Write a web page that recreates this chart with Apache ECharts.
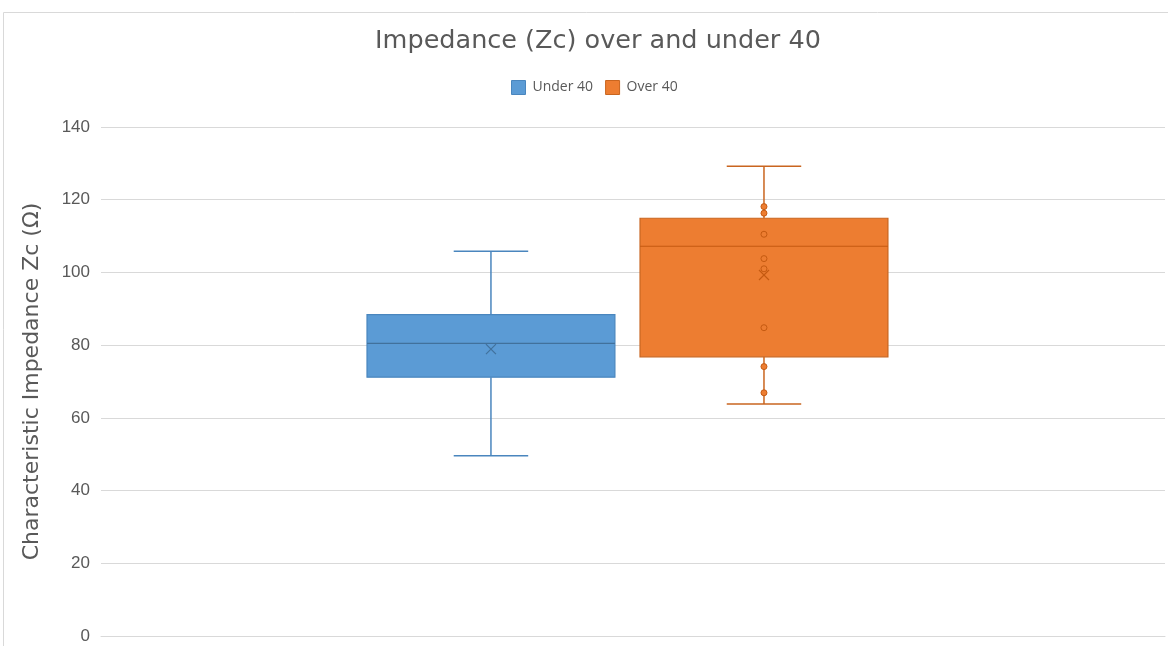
<!DOCTYPE html>
<html>
<head>
<meta charset="utf-8">
<script src="https://cdn.jsdelivr.net/npm/echarts@6/dist/echarts.min.js"></script>
<style>
  html, body { margin: 0; padding: 0; background: #fff; }
  #chart { width: 1168px; height: 646px; }
</style>
</head>
<body>
<div id="chart"></div>
<script>
// Box plot statistics per age group
const groups = ['Under 40', 'Over 40'];
const whiskerLow = [49.6, 63.8];
const quartile1 = [71.2, 76.8];
const medians = [80.5, 107.2];
const quartile3 = [88.4, 114.9];
const whiskerHigh = [105.8, 129.2];
const means = [78.9, 99.3];
// Individual measurements shown for the "Over 40" group
const overPoints = [118.1, 116.3, 110.5, 103.8, 101.0, 84.8, 74.1, 66.9];
const yTicks = [0, 20, 40, 60, 80, 100, 120, 140];

const fills = ['#5B9BD5', '#ED7D31'];
const edges = ['#4A86BE', '#C9651F'];
const inner = ['#41719C', '#C55A11'];
// horizontal position of each box inside the single category band (fraction of band)
const bandOffset = [-0.1335, 0.1231];
const halfBox = 0.1165;
const halfCap = 0.035;

const chart = echarts.init(document.getElementById('chart'));

function boxRender(gi) {
  return function (params, api) {
    const band = api.size([1, 0])[0];
    const cx = api.coord([0, 0])[0] + bandOffset[gi] * band;
    const y = v => api.coord([0, v])[1];
    const hb = halfBox * band, hc = halfCap * band;
    const yLo = y(api.value(1)), yQ1 = y(api.value(2)), yMed = y(api.value(3));
    const yQ3 = y(api.value(4)), yHi = y(api.value(5)), yMean = y(api.value(6));
    const lineStyle = { stroke: edges[gi], lineWidth: 1.5 };
    const m = 5;
    return {
      type: 'group',
      children: [
        { type: 'line', shape: { x1: cx, y1: yHi, x2: cx, y2: yQ3 }, style: lineStyle },
        { type: 'line', shape: { x1: cx, y1: yQ1, x2: cx, y2: yLo }, style: lineStyle },
        { type: 'line', shape: { x1: cx - hc, y1: yHi, x2: cx + hc, y2: yHi }, style: lineStyle },
        { type: 'line', shape: { x1: cx - hc, y1: yLo, x2: cx + hc, y2: yLo }, style: lineStyle },
        { type: 'rect', shape: { x: cx - hb, y: yQ3, width: 2 * hb, height: yQ1 - yQ3 },
          style: { fill: fills[gi], stroke: edges[gi], lineWidth: 1.2 } },
        { type: 'line', shape: { x1: cx - hb, y1: yMed, x2: cx + hb, y2: yMed },
          style: { stroke: inner[gi], lineWidth: 1.2 } },
        { type: 'line', shape: { x1: cx - m, y1: yMean - m, x2: cx + m, y2: yMean + m },
          style: { stroke: inner[gi], lineWidth: 1.2 } },
        { type: 'line', shape: { x1: cx - m, y1: yMean + m, x2: cx + m, y2: yMean - m },
          style: { stroke: inner[gi], lineWidth: 1.2 } }
      ]
    };
  };
}

function pointRender(gi) {
  return function (params, api) {
    const band = api.size([1, 0])[0];
    const cx = api.coord([0, 0])[0] + bandOffset[gi] * band;
    const cy = api.coord([0, api.value(1)])[1];
    return {
      type: 'circle',
      shape: { cx: cx, cy: cy, r: 3 },
      style: { fill: fills[gi], stroke: inner[gi], lineWidth: 1 }
    };
  };
}

const series = [];
groups.forEach((name, gi) => {
  series.push({
    name: name,
    type: 'custom',
    renderItem: boxRender(gi),
    itemStyle: { color: fills[gi] },
    encode: { x: 0, y: [1, 2, 3, 4, 5] },
    data: [[0, whiskerLow[gi], quartile1[gi], medians[gi], quartile3[gi], whiskerHigh[gi], means[gi]]],
    z: 2
  });
});
series.push({
  name: 'Over 40',
  type: 'custom',
  renderItem: pointRender(1),
  itemStyle: { color: fills[1] },
  encode: { x: 0, y: 1 },
  data: overPoints.map(v => [0, v]),
  z: 3
});

chart.setOption({
  animation: false,
  title: {
    text: 'Impedance (Zc) over and under 40',
    left: 593, top: 23, textAlign: 'center',
    textStyle: { fontFamily: 'DejaVu Sans', fontSize: 25.5, fontWeight: 'normal', color: '#595959' }
  },
  legend: {
    data: groups.map((g, i) => ({ name: g, itemStyle: { color: fills[i], borderColor: edges[i], borderWidth: 1 } })),
    left: 506, top: 75,
    icon: 'rect', itemWidth: 14, itemHeight: 14, itemGap: 12,
    textStyle: { fontFamily: 'Open Sans', fontSize: 14, color: '#595959', padding: [0, 0, 0, 2] }
  },
  graphic: [{
    type: 'rect', silent: true, z: -10,
    shape: { x: 3.5, y: 12.5, width: 1180, height: 650 },
    style: { fill: 'none', stroke: '#d9d9d9', lineWidth: 1 }
  }],
  grid: { left: 101, right: 3, top: 127, bottom: 10, containLabel: false },
  xAxis: {
    type: 'category', data: [''],
    axisLine: { lineStyle: { color: '#d9d9d9', width: 1 } },
    axisTick: { show: false }, axisLabel: { show: false }
  },
  yAxis: {
    type: 'value', min: yTicks[0], max: yTicks[yTicks.length - 1], interval: 20,
    name: 'Characteristic Impedance Zc (Ω)', nameLocation: 'middle', nameGap: 58,
    nameTextStyle: { fontFamily: 'DejaVu Sans', fontSize: 22, color: '#595959' },
    axisLine: { show: false }, axisTick: { show: false },
    axisLabel: { fontFamily: 'Liberation Sans', fontSize: 17, color: '#595959', margin: 11 },
    splitLine: { lineStyle: { color: '#d9d9d9', width: 1 } }
  },
  series: series
});
</script>
</body>
</html>
